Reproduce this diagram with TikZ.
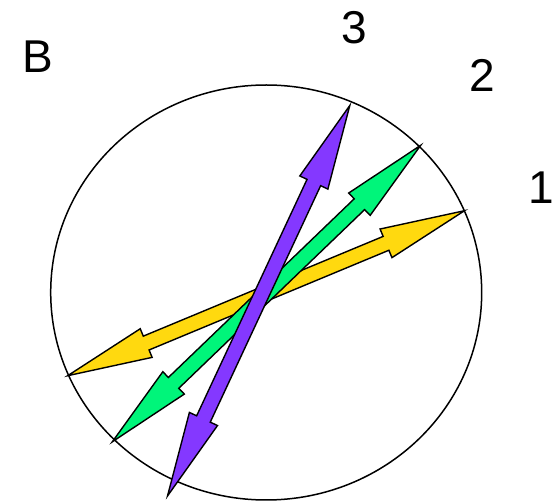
\documentclass[tikz,border=0pt]{standalone}
\usepackage{fontspec}
\setmainfont{Liberation Sans}
\usetikzlibrary{calc}

\definecolor{arrowYellow}{HTML}{FFD90F}
\definecolor{arrowGreen}{HTML}{00F57A}
\definecolor{arrowPurple}{HTML}{8438FF}

\tikzset{
  rim/.style={line width=1.5pt},
  arrowbody/.style={draw=black, line width=1.4pt},
  axislabel/.style={inner sep=0pt, anchor=base, font=\fontsize{46}{50}\selectfont}
}

% double headed arrow from #2 to #3, filled with #1
\newcommand{\dblarrow}[3]{%
  \filldraw[arrowbody, fill=#1]
    (#2)
    -- ($(#2)!85pt!(#3)!15.5pt!90:(#3)$)
    -- ($(#2)!85pt!(#3)!7.5pt!90:(#3)$)
    -- ($(#3)!85pt!(#2)!7.5pt!-90:(#2)$)
    -- ($(#3)!85pt!(#2)!15.5pt!-90:(#2)$)
    -- (#3)
    -- ($(#3)!85pt!(#2)!15.5pt!90:(#2)$)
    -- ($(#3)!85pt!(#2)!7.5pt!90:(#2)$)
    -- ($(#2)!85pt!(#3)!7.5pt!-90:(#3)$)
    -- ($(#2)!85pt!(#3)!15.5pt!-90:(#3)$)
    -- cycle;}

\begin{document}
\begin{tikzpicture}[x=1pt,y=-1pt]

\useasboundingbox (0,0) rectangle (552,502);

% -------------------------------------------------
% Circle
% -------------------------------------------------
\draw[rim] (266.2,292.5) ellipse [x radius=215.5pt, y radius=207.5pt];

% -------------------------------------------------
% Arrow ends
% -------------------------------------------------
\coordinate (yel-s) at (67.7,375.7);
\coordinate (yel-e) at (464.5,210.7);
\coordinate (grn-s) at (112.3,441.8);
\coordinate (grn-e) at (420.7,145.3);
\coordinate (pur-s) at (167.5,496);
\coordinate (pur-e) at (349.8,105.5);

% -------------------------------------------------
% Arrows (yellow below, purple on top)
% -------------------------------------------------
\foreach \c/\s/\e in {arrowYellow/yel-s/yel-e, arrowGreen/grn-s/grn-e, arrowPurple/pur-s/pur-e}
  \dblarrow{\c}{\s}{\e};

% -------------------------------------------------
% Labels
% -------------------------------------------------
\node[axislabel] (lblB)   at (37.8,72.3)  {B};
\node[axislabel] (lbl3)   at (354.3,43.3) {3};
\node[axislabel] (lbl2)   at (482,91.7)   {2};
\node[axislabel] (lbl1)   at (541.5,203.3) {1};

\end{tikzpicture}
\end{document}
